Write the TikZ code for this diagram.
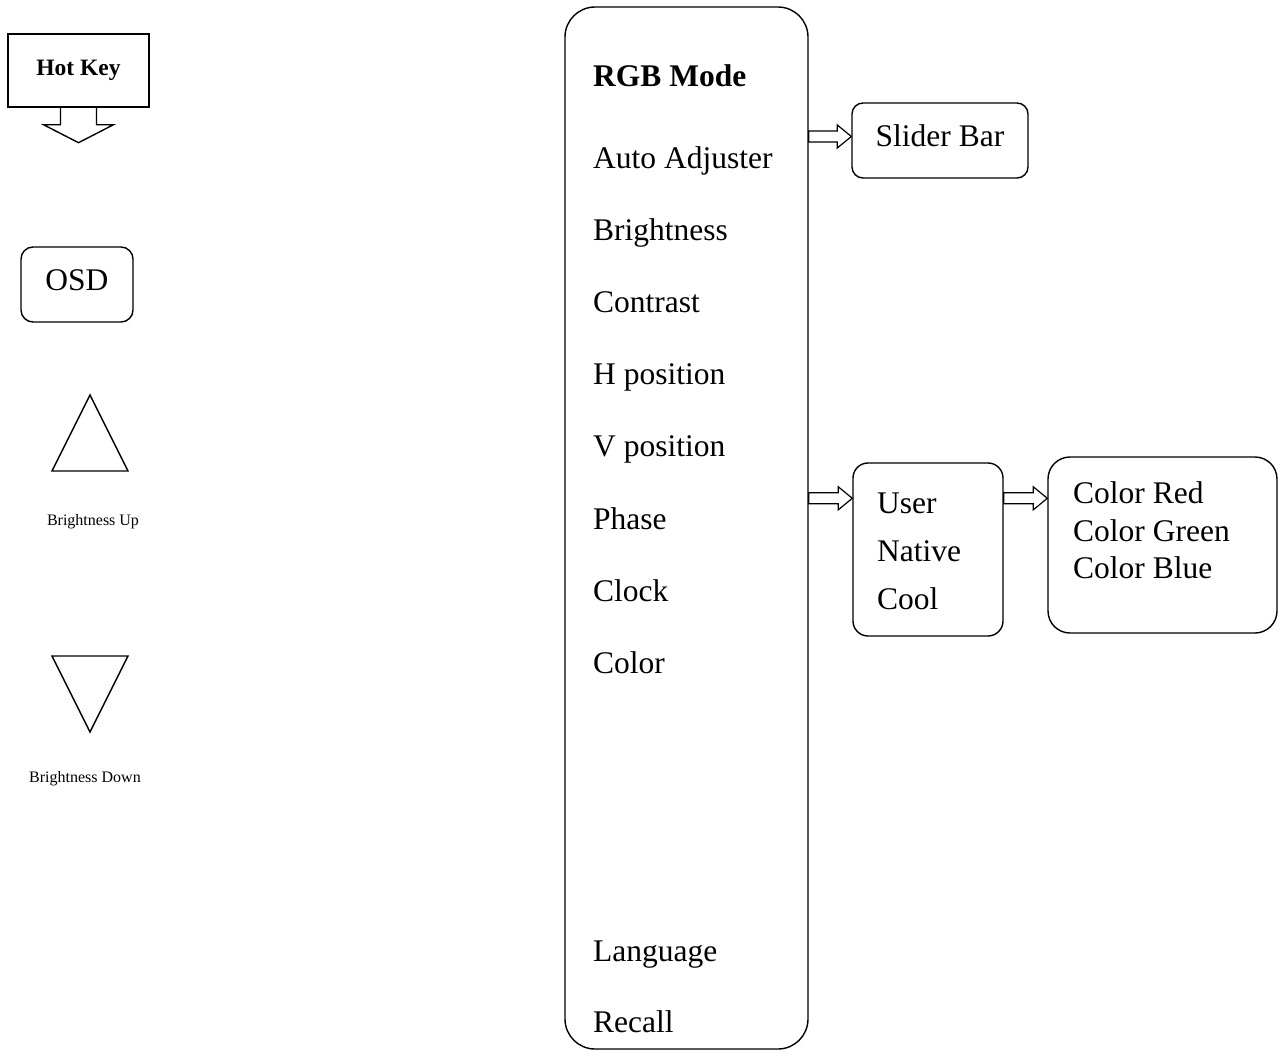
\documentclass[tikz,border=0pt]{standalone}
\usepackage{fontspec}
\setmainfont{Liberation Serif}
\usetikzlibrary{calc}
\newcommand{\bigtxt}{\fontsize{31.5}{36}\selectfont}
\tikzset{
    menubox/.style={draw, rounded corners=30pt, line width=1.4pt,
                    minimum width=243pt, minimum height=1042pt, inner sep=0pt},
    subbox/.style={draw, rounded corners=#1, line width=1.4pt, inner sep=0pt},
    subbox/.default=12pt,
    boxtxt/.style={font=\bigtxt, text height=22pt, text depth=11pt},
    item/.style={anchor=base west, inner sep=0pt, font=\bigtxt},
    keylabel/.style={font=\fontsize{16}{19}\selectfont, inner sep=0pt},
    symline/.style={line width=1.4pt, line join=miter},
    blockarr/.style={draw, line width=1.2pt, line join=miter},
}
\newcommand{\hollowarrow}[2]{%
    \draw[blockarr] ($(#1)+(0,-5.5)$) -- ($(#2)+(-14,-5.5)$) -- ($(#2)+(-14,-11.5)$)
        -- (#2) -- ($(#2)+(-14,11.5)$) -- ($(#2)+(-14,5.5)$) -- ($(#1)+(0,5.5)$) -- cycle;}

\begin{document}
\begin{tikzpicture}[x=1pt, y=-1pt]
    \useasboundingbox (0,0) rectangle (1278,1052);

    \node[draw, symline, minimum width=141pt, minimum height=73pt, inner sep=0pt,
          font=\fontsize{23.5}{28}\selectfont\bfseries] (hotkey) at (78.5,70.5) {Hot Key};
    \draw[symline] (hotkey.south) ++(-18,0) -- ++(0,17) -- ++(-17,0) -- ++(35,18)
        -- ++(35,-18) -- ++(-17,0) -- ++(0,-17);

    \node[subbox, minimum width=112pt, minimum height=75pt, boxtxt] (osd) at (77,284.5) {OSD};

    \draw[symline] (90,395) -- (128,471) -- (52,471) -- cycle;
    \node[keylabel] (bup) at (93,522) {Brightness Up};
    \draw[symline] (52,656) -- (128,656) -- (90,732) -- cycle;
    \node[keylabel] (bdown) at (85,779) {Brightness Down};

    \node[menubox] (menu) at (686.5,528) {};
    \node[item, font=\bigtxt\bfseries] (rgb) at (593,86) {RGB Mode};
    \foreach \txt/\y [count=\i] in {Auto Adjuster/168, Brightness/240, Contrast/312,
            H position/384, V position/456, Phase/529, Clock/601, Color/673,
            Language/961, Recall/1032}
        \node[item] (item\i) at (593,\y) {\txt};

    \node[subbox=11pt, minimum width=176pt, minimum height=75pt, boxtxt] (slider) at (940,140.5) {Slider Bar};

    \node[subbox=15pt, minimum width=150pt, minimum height=173pt] (user) at (928,549.5) {};
    \foreach \txt/\y [count=\i] in {User/513, Native/561, Cool/609}
        \node[item] (mode\i) at (877,\y) {\txt};

    \node[subbox=22pt, minimum width=229pt, minimum height=176pt] (colors) at (1162.5,545) {};
    \foreach \txt/\y [count=\i] in {Color Red/503, Color Green/541, Color Blue/578}
        \node[item] (chan\i) at (1073,\y) {\txt};

    \coordinate (sin) at ($(slider.west)+(0,-4)$);
    \coordinate (uin) at ($(user.north west)+(0,36)$);
    \hollowarrow{menu.east |- sin}{sin}
    \hollowarrow{menu.east |- uin}{uin}
    \hollowarrow{user.east |- uin}{colors.west |- uin}
\end{tikzpicture}
\end{document}
